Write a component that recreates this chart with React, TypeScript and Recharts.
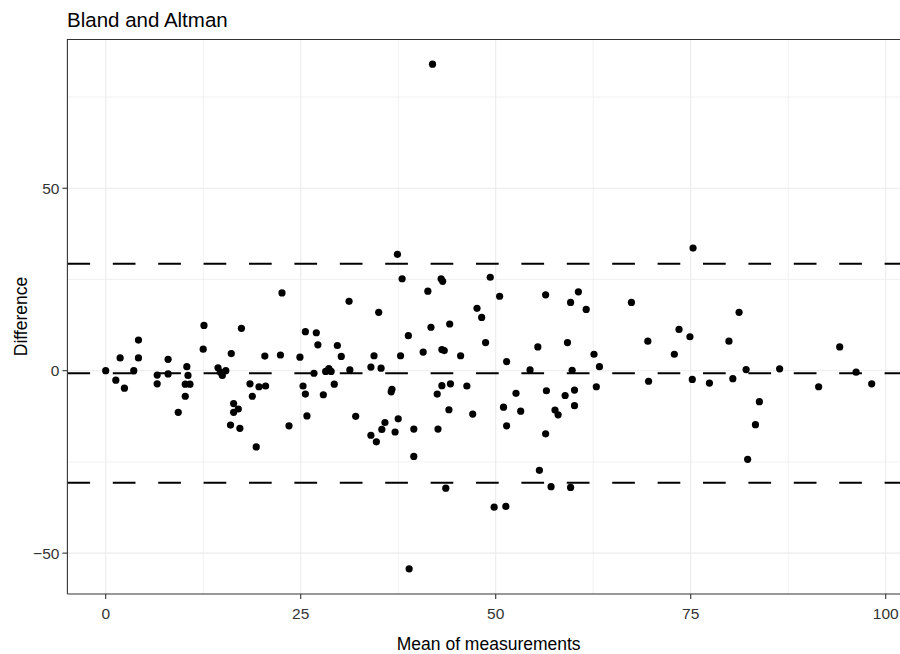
import React from "react";
import {
  ScatterChart,
  Scatter,
  XAxis,
  YAxis,
  ReferenceLine,
} from "recharts";

// Mean of the two measurements (x) and their difference (y)
const meanValues: number[] = [
  0.0, 1.3, 1.85, 2.4, 3.6, 4.2, 4.2, 6.6, 6.6, 8.0, 8.0, 9.3, 10.4, 10.55, 10.2, 10.8, 10.2,
  12.6, 12.5, 14.4, 14.7, 14.95, 15.4, 16.1, 17.4, 16.4, 17.0, 16.4, 16.0, 17.2, 18.5, 18.8, 19.3,
  19.65, 20.5, 20.4, 22.4, 22.6, 23.5, 24.9, 25.3, 25.6, 25.6, 27.0, 27.2, 25.8, 26.7, 27.9,
  28.2, 28.6, 28.9, 29.3, 29.7, 30.2, 31.2, 31.3, 32.05, 34.0, 34.4, 35.3, 35.0, 34.0, 34.7,
  35.4, 35.8, 36.7, 36.6, 37.4, 38.0, 38.8, 37.8, 37.5, 37.1, 39.5, 39.5,
  41.3, 43.0, 43.2, 40.7, 41.7, 44.1, 43.1, 43.4, 45.5, 47.6, 48.2, 48.7, 49.3, 50.5, 51.4,
  55.4, 54.4, 56.4, 59.2, 59.6, 43.1, 44.2, 42.5, 46.3, 44.0, 47.05, 42.6, 51.0, 52.6, 53.2,
  51.4, 56.5, 58.9, 57.6, 58.0, 56.4,
  60.6, 61.6, 62.6, 63.3, 59.8, 62.9, 60.1, 60.1, 67.4, 69.5, 69.6, 75.3, 73.5, 74.9, 72.9,
  75.2, 77.4, 79.9,
  81.2, 80.4, 82.1, 86.4, 83.8, 83.3, 82.3, 91.4, 94.1, 96.2, 98.2,
  38.9, 43.6, 49.8, 51.3, 55.6, 57.1, 59.6,
  41.9,
];

const diffValues: number[] = [
  0.0, -2.6, 3.5, -4.8, 0.0, 3.5, 8.4, -1.2, -3.6, 3.1, -0.9, -11.4, 1.1, -1.3, -3.7, -3.7, -7.0,
  12.4, 5.9, 0.8, -0.4, -1.3, 0.0, 4.7, 11.6, -9.0, -10.5, -11.4, -14.9, -15.8, -3.6, -7.0, -20.9,
  -4.4, -4.2, 4.0, 4.3, 21.3, -15.1, 3.7, -4.2, -6.4, 10.7, 10.4, 7.1, -12.4, -0.7, -6.6,
  -0.2, 0.6, -0.2, -3.7, 6.9, 3.9, 19.0, 0.2, -12.5, 1.0, 4.1, 0.7, 16.0, -17.7, -19.5,
  -16.1, -14.2, -5.1, -5.8, 31.9, 25.2, 9.6, 4.1, -13.2, -16.8, -16.0, -23.5,
  21.8, 25.2, 24.5, 5.1, 11.9, 12.8, 5.8, 5.5, 4.1, 17.1, 14.6, 7.7, 25.6, 20.4, 2.5,
  6.5, 0.2, 20.8, 7.7, 18.7, -4.1, -3.6, -6.4, -4.2, -10.7, -11.9, -16.0, -10.0, -6.2, -11.1,
  -15.1, -5.5, -6.8, -10.8, -12.1, -17.3,
  21.6, 16.8, 4.5, 1.1, 0.1, -4.4, -5.3, -9.6, 18.7, 8.1, -2.9, 33.6, 11.3, 9.3, 4.5,
  -2.4, -3.4, 8.1,
  16.0, -2.2, 0.3, 0.5, -8.5, -14.8, -24.3, -4.4, 6.5, -0.4, -3.6,
  -54.3, -32.2, -37.4, -37.2, -27.3, -31.8, -32.0,
  84.0,
];

// Bias and limits of agreement
const meanDiff = -0.7;
const upperLimit = 29.3;
const lowerLimit = -30.7;

const xTicks = [0, 25, 50, 75, 100];
const yTicks = [-50, 0, 50];
const xMinorTicks = [12.5, 37.5, 62.5, 87.5];
const yMinorTicks = [-25, 25, 75];

const X_DOMAIN: [number, number] = [-4.91, 101.83];
const Y_DOMAIN: [number, number] = [-61.2, 90.9];

const data = meanValues.map((m, i) => ({ mean: m, diff: diffValues[i] }));

const FONT = "'Liberation Sans', Arial, Helvetica, sans-serif";

const Dot = (props: any) => {
  const { cx, cy } = props;
  if (cx == null || cy == null) return null;
  return <circle cx={cx} cy={cy} r={3.6} fill="#000" />;
};

const fmt = (v: number) => String(v).replace("-", "\u2212");

export default function App() {
  return (
    <div
      style={{
        position: "absolute",
        left: 0,
        top: 0,
        width: 900,
        height: 654,
        overflow: "hidden",
        background: "#fff",
        fontFamily: FONT,
      }}
    >
      <div
        style={{
          position: "absolute",
          left: 67,
          top: 9.5,
          fontSize: 20.5,
          lineHeight: "20px",
          color: "#000",
          whiteSpace: "nowrap",
        }}
      >
        Bland and Altman
      </div>
      <ScatterChart
        width={900}
        height={654}
        margin={{ top: 39, right: 0, bottom: 0, left: 0 }}
        style={{ fontFamily: FONT }}
      >
        {xMinorTicks.map((v) => (
          <ReferenceLine key={"xm" + v} x={v} stroke="#EBEBEB" strokeWidth={0.7} />
        ))}
        {yMinorTicks.map((v) => (
          <ReferenceLine key={"ym" + v} y={v} stroke="#EBEBEB" strokeWidth={0.7} />
        ))}
        {xTicks.map((v) => (
          <ReferenceLine key={"xM" + v} x={v} stroke="#EBEBEB" strokeWidth={1.1} />
        ))}
        {yTicks.map((v) => (
          <ReferenceLine key={"yM" + v} y={v} stroke="#EBEBEB" strokeWidth={1.1} />
        ))}
        <XAxis
          type="number"
          dataKey="mean"
          domain={X_DOMAIN}
          ticks={xTicks}
          allowDataOverflow
          height={60}
          tickSize={5}
          tickMargin={9}
          tick={{ fill: "#333", fontSize: 15.5 }}
          tickLine={{ stroke: "#333", strokeWidth: 1.1 }}
          axisLine={{ stroke: "#333", strokeWidth: 1.1 }}
          label={{
            value: "Mean of measurements",
            position: "insideBottom",
            offset: 4,
            dx: 5,
            fontSize: 17.5,
            fill: "#000",
          }}
        />
        <YAxis
          type="number"
          dataKey="diff"
          domain={Y_DOMAIN}
          ticks={yTicks}
          allowDataOverflow
          width={67.4}
          tickSize={5}
          tickMargin={3}
          tickFormatter={fmt}
          tick={{ fill: "#333", fontSize: 15.5 }}
          tickLine={{ stroke: "#333", strokeWidth: 1.1 }}
          axisLine={{ stroke: "#333", strokeWidth: 1.1 }}
          label={{
            value: "Difference",
            angle: -90,
            position: "insideLeft",
            offset: 21,
            fontSize: 17.5,
            fill: "#000",
            style: { textAnchor: "middle" },
          }}
        />
        <ReferenceLine y={upperLimit} stroke="#000" strokeWidth={2} strokeDasharray="22.7 22.7" />
        <ReferenceLine y={meanDiff} stroke="#000" strokeWidth={2} strokeDasharray="22.7 22.7" />
        <ReferenceLine y={lowerLimit} stroke="#000" strokeWidth={2} strokeDasharray="22.7 22.7" />
        <Scatter data={data} fill="#000" shape={Dot} isAnimationActive={false} />
      </ScatterChart>
      <div
        style={{
          position: "absolute",
          left: 66.9,
          top: 38.5,
          width: 840,
          height: 1.1,
          background: "#333",
        }}
      />
    </div>
  );
}
